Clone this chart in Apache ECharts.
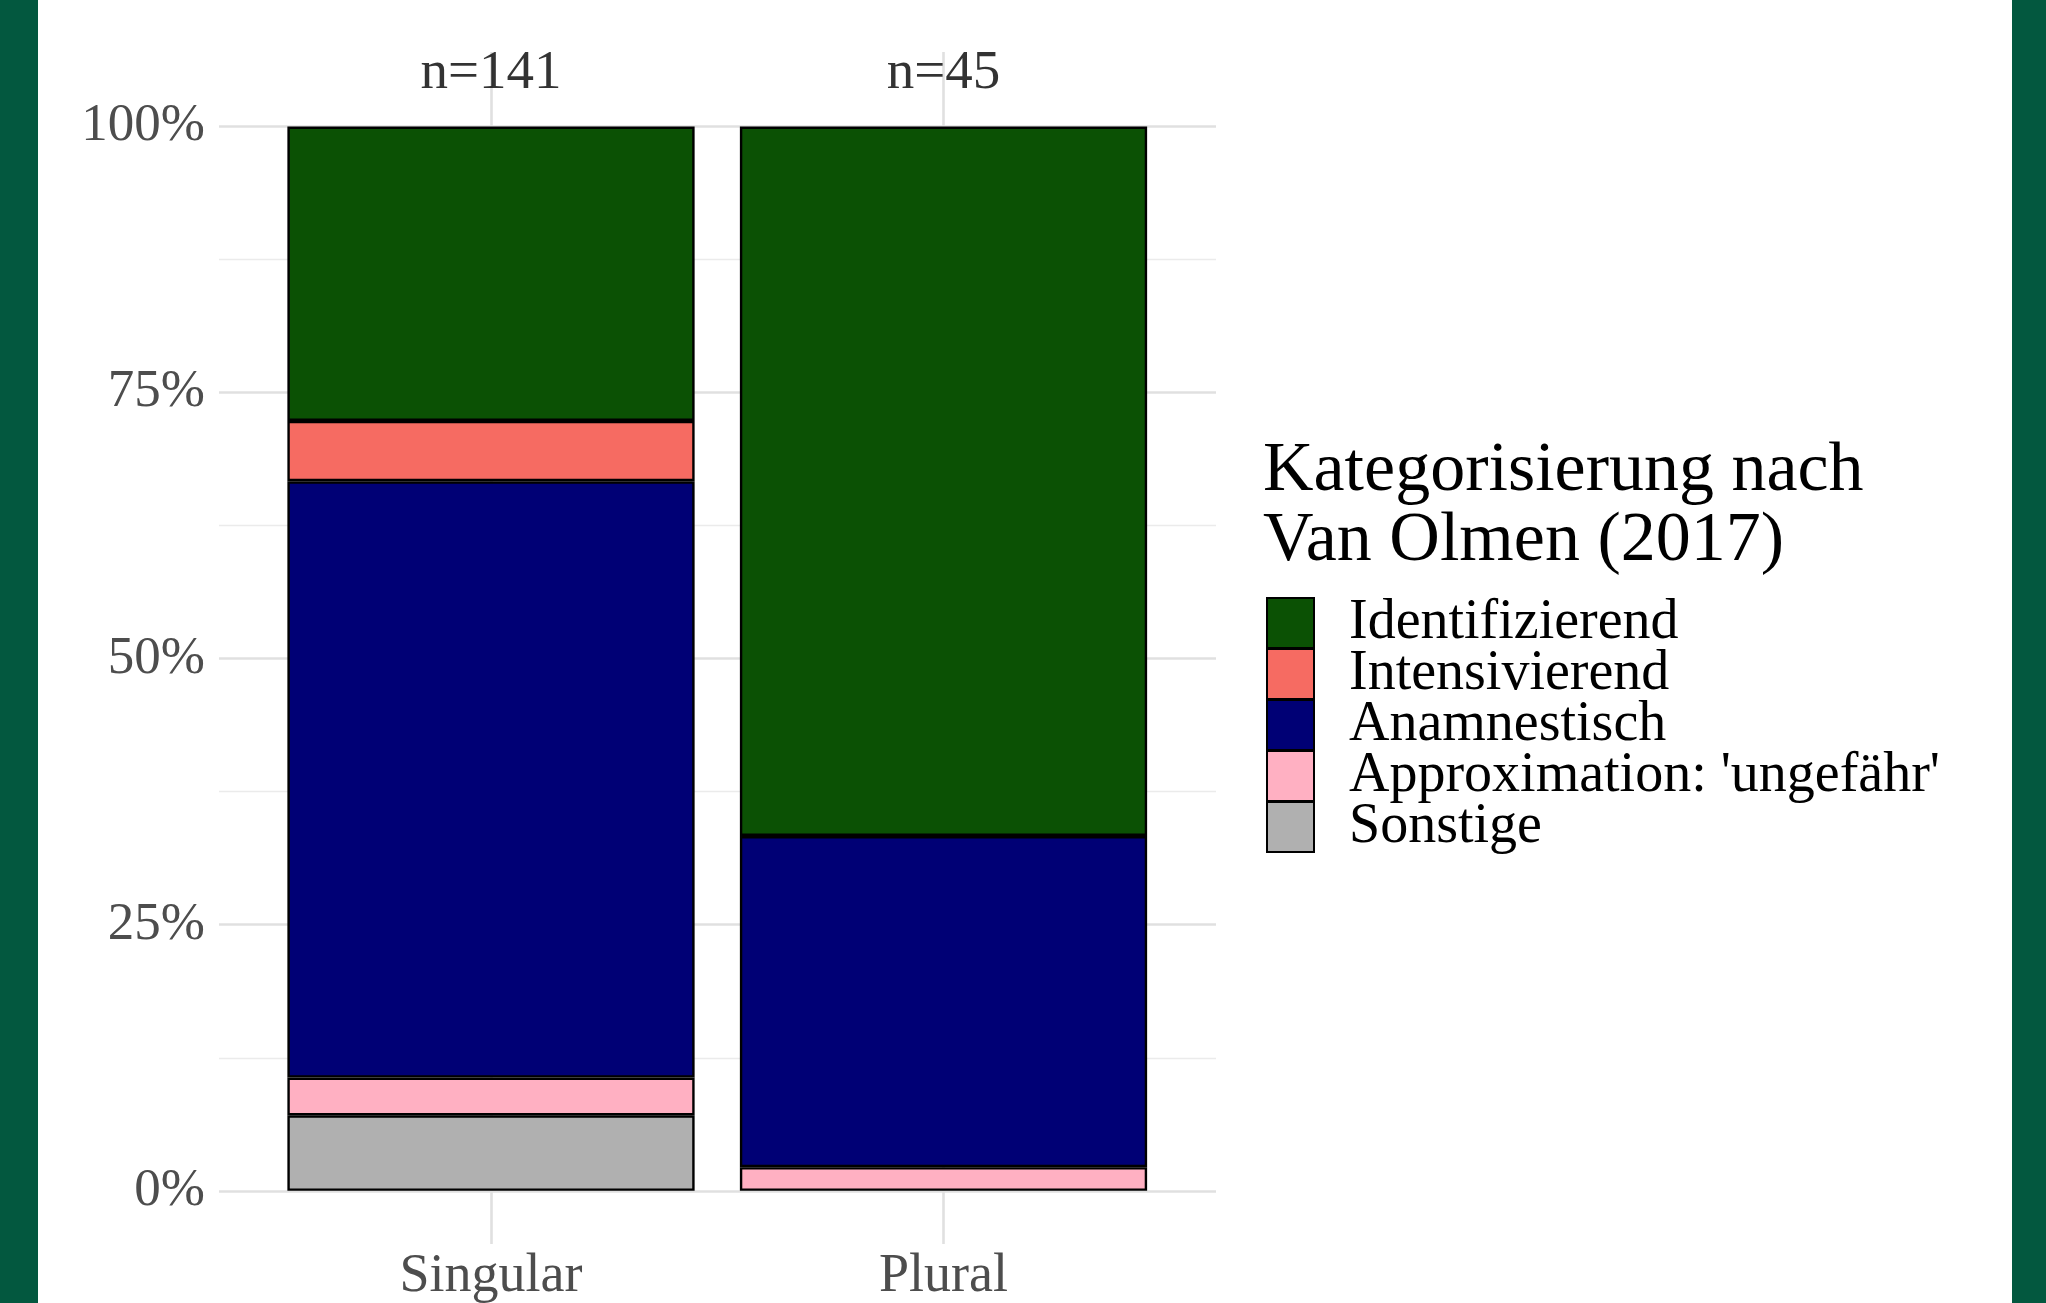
<!DOCTYPE html>
<html>
<head>
<meta charset="utf-8">
<script src="https://cdn.jsdelivr.net/npm/echarts@6/dist/echarts.min.js"></script>
<style>
html,body{margin:0;padding:0;background:#fff;}
#chart{width:2046px;height:1303px;}
</style>
</head>
<body>
<div id="chart"></div>
<script>
// ---- data (counts per category) ----
const categories = ['Singular', 'Plural'];
const nTotals = [141, 45];
const identifizierend = [39, 30];
const intensivierend = [8, 0];
const anamnestisch = [79, 14];
const approximation = [5, 1];
const sonstige = [10, 0];
const yTicks = [0, 25, 50, 75, 100];
const yTickLabels = ['0%', '25%', '50%', '75%', '100%'];
const yMinorTicks = [12.5, 37.5, 62.5, 87.5];
const nLabelY = 105;

const FONT = 'Liberation Serif';
const legendOrder = ['Identifizierend', 'Intensivierend', 'Anamnestisch', "Approximation: 'ungefähr'", 'Sonstige'];

function pct(arr) {
  return arr.map((v, i) => (v ? v / nTotals[i] * 100 : null));
}

function barSeries(name, arr, color) {
  return {
    name: name, type: 'bar', stack: 'total', barWidth: '90%',
    xAxisIndex: 0, yAxisIndex: 0,
    data: pct(arr),
    itemStyle: {color: color, borderColor: '#000', borderWidth: 2.4},
    emphasis: {disabled: true}, z: 2
  };
}

// horizontal grid lines + y labels (full panel width, grid 1)
const hLines = [];
yMinorTicks.forEach(v => hLines.push({yAxis: v, lineStyle: {color: '#EBEBEB', width: 1.4, type: 'solid'}, label: {show: false}}));
yTicks.forEach((v, i) => hLines.push({yAxis: v, lineStyle: {color: '#E0E0E0', width: 2.6, type: 'solid'},
  label: {show: true, position: 'start', distance: 14, formatter: yTickLabels[i], color: '#4D4D4D', fontSize: 53, fontFamily: FONT}}));
// vertical grid lines + x labels (grid 0, category axis)
const vLines = categories.map(c => ({xAxis: c, lineStyle: {color: '#E0E0E0', width: 2.6, type: 'solid'},
  label: {show: true, position: 'start', distance: 6, formatter: c, color: '#4D4D4D', fontSize: 54, fontFamily: FONT}}));

const chart = echarts.init(document.getElementById('chart'));
chart.setOption({
  animation: false,
  backgroundColor: '#ffffff',
  textStyle: {fontFamily: FONT},
  graphic: [
    {type: 'rect', left: 0, top: 0, shape: {width: 38, height: 1303}, style: {fill: '#03583F'}, z: 100},
    {type: 'rect', left: 2012, top: 0, shape: {width: 34, height: 1303}, style: {fill: '#03583F'}, z: 100}
  ],
  title: {
    text: 'Kategorisierung nach\nVan Olmen (2017)',
    left: 1258, top: 432,
    textStyle: {fontSize: 70, lineHeight: 70, fontWeight: 'normal', color: '#000', fontFamily: FONT}
  },
  legend: {
    orient: 'vertical', left: 1261, top: 590,
    itemWidth: 47, itemHeight: 50, itemGap: -5,
    icon: 'rect', selectedMode: false,
    data: legendOrder,
    textStyle: {fontSize: 56, lineHeight: 50, color: '#000', fontFamily: FONT, padding: [0, 0, 0, 30]}
  },
  grid: [
    {left: 264.75, right: 876.25, top: 52, bottom: 59},
    {left: 219, right: 830, top: 52, bottom: 59}
  ],
  xAxis: [
    {type: 'category', data: categories, boundaryGap: true, show: false, gridIndex: 0},
    {type: 'value', min: 0, max: 1, show: false, gridIndex: 1}
  ],
  yAxis: [
    {type: 'value', min: -5, max: 107, show: false, gridIndex: 0},
    {type: 'value', min: -5, max: 107, show: false, gridIndex: 1}
  ],
  series: [
    {
      name: 'grid', type: 'scatter', xAxisIndex: 1, yAxisIndex: 1, symbolSize: 0, z: 1, silent: true,
      data: yTicks.map(v => [0.5, v]),
      markLine: {silent: true, symbol: 'none', z: 1, data: hLines, emphasis: {disabled: true}}
    },
    barSeries('Sonstige', sonstige, '#B0B0B0'),
    barSeries("Approximation: 'ungefähr'", approximation, '#FFB0C2'),
    barSeries('Anamnestisch', anamnestisch, '#000075'),
    barSeries('Intensivierend', intensivierend, '#F66B62'),
    barSeries('Identifizierend', identifizierend, '#0B5104'),
    {
      name: 'n', type: 'scatter', xAxisIndex: 0, yAxisIndex: 0, symbolSize: 0, z: 3, silent: true,
      data: categories.map(c => [c, nLabelY]),
      label: {show: true, position: 'inside', formatter: p => 'n=' + nTotals[p.dataIndex], color: '#000', fontSize: 55, fontFamily: FONT},
      markLine: {silent: true, symbol: 'none', z: 1, data: vLines, emphasis: {disabled: true}}
    }
  ]
});
</script>
</body>
</html>
